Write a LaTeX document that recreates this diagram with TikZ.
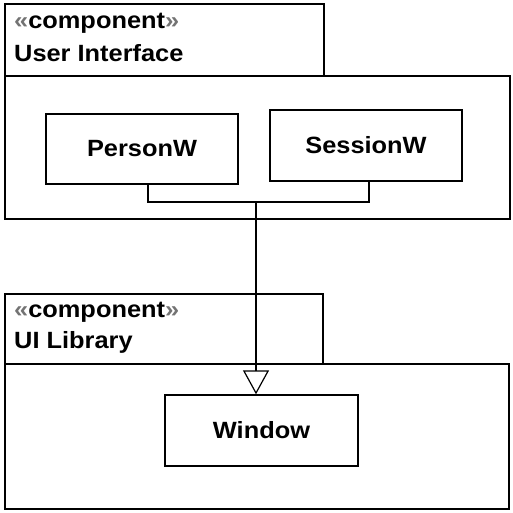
\documentclass[tikz,border=0pt]{standalone}
\usepackage{fontspec}
\setmainfont{Liberation Sans}
\newfontfamily\umlfont{Liberation Sans}[FakeStretch=1.08]
\usetikzlibrary{arrows.meta,calc}
\begin{document}
\begin{tikzpicture}[x=1pt,y=-1pt,
  frame/.style={draw=black,line width=1.4pt},
  part/.style={draw=black,line width=1.4pt,minimum height=70pt,inner sep=0pt,
    font=\umlfont\fontsize{23.5}{27}\selectfont\bfseries},
  lbl/.style={anchor=base west,inner sep=0pt,font=\umlfont\fontsize{23.5}{27}\selectfont\bfseries},
  wire/.style={draw=black,line width=1.4pt},
  genarrow/.style={-{Triangle[open,width=26pt,length=24pt,line width=1.2pt]}}]
\useasboundingbox (0,0) rectangle (513,512);
% top component
\draw[frame] (5,4) rectangle (324,76);
\draw[frame] (5,76) rectangle (510,219);
\node[lbl] (st1) at (14,28) {\textcolor{black!55}{«}component\textcolor{black!55}{»}};
\node[lbl] (n1) at (14,61) {User Interface};
\node[part,minimum width=192pt] (pw) at (142,149) {PersonW};
\node[part,minimum width=192pt,minimum height=71pt] (sw) at (366,145.5) {SessionW};
% bottom component
\draw[frame] (5,294) rectangle (323,364);
\draw[frame] (5,364) rectangle (509,509);
\node[lbl] (st2) at (14,317) {\textcolor{black!55}{«}component\textcolor{black!55}{»}};
\node[lbl] (n2) at (14,348) {UI Library};
\node[part,minimum width=193pt,minimum height=71pt] (win) at (261.5,430.5) {Window};
% connectors
\coordinate (j) at (256,202);
\coordinate (pa) at ($(pw.south)+(6,0)$);
\coordinate (sa) at ($(sw.south)+(3,0)$);
\draw[wire] (pa) |- (j) -| (sa);
\draw[wire,genarrow] (j) -- (win.north -| j);
\end{tikzpicture}
\end{document}
